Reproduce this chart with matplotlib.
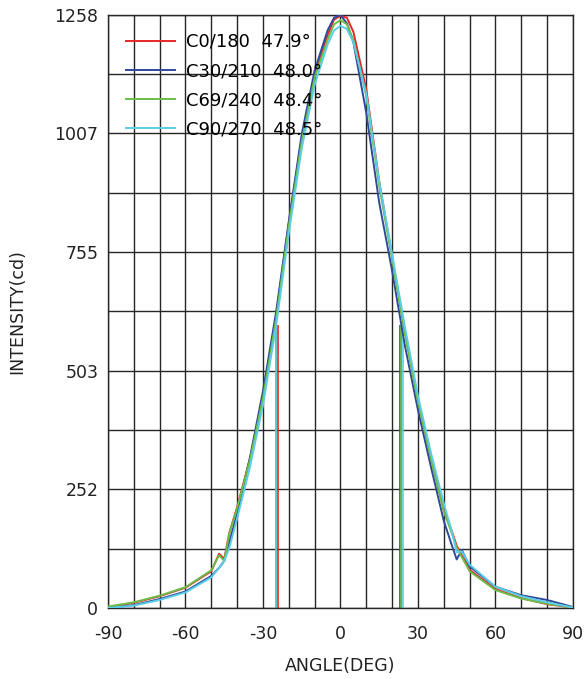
import numpy as np
import matplotlib
matplotlib.use("Agg")
import matplotlib.pyplot as plt

plt.rcParams['font.family'] = ['DejaVu Sans']

# angles (deg) shared by all four C-planes
angles = [-90, -80, -70, -60, -50, -47, -45, -43, -40, -35, -30, -25, -20, -15,
          -10, -5, -2.5, 0, 2.5, 5, 10, 15, 20, 25, 30, 35, 40, 43, 45, 47,
          50, 60, 70, 80, 90]

c0 = [2, 11, 25, 43, 78, 115, 104, 160, 214, 318, 448, 614, 816, 996,
      1131, 1215, 1248, 1256, 1252, 1222, 1100, 905, 745, 585, 440, 318, 208, 165, 132, 112,
      81, 40, 21, 8, 1]
c30 = [0, 6, 19, 35, 68, 85, 100, 140, 201, 320, 460, 625, 820, 1005,
       1140, 1225, 1252, 1258, 1240, 1200, 1050, 860, 715, 555, 420, 300, 185, 135, 103, 123,
       88, 45, 27, 17, 2]
c69 = [3, 12, 26, 44, 80, 112, 100, 158, 212, 315, 445, 610, 810, 990,
       1125, 1205, 1238, 1247, 1238, 1205, 1085, 895, 740, 580, 438, 318, 205, 160, 128, 108,
       78, 38, 20, 9, 1]
c90 = [0, 5, 17, 33, 65, 85, 100, 128, 190, 300, 430, 595, 795, 975,
       1110, 1195, 1225, 1235, 1228, 1200, 1090, 905, 750, 595, 450, 330, 222, 165, 118, 120,
       92, 45, 25, 12, 1]

labels = ['C0/180  47.9°', 'C30/210  48.0°', 'C69/240  48.4°', 'C90/270  48.5°']
colors = ['#e8262a', '#2f4a9c', '#6bbd45', '#5bcde6']

# half-intensity angles (left, right) and height of the marker lines
half_left = [-24.3, -24.8, -25.0, -25.0]
half_right = [23.6, 22.9, 23.4, 24.3]
half_top = [600, 600, 600, 610]

yticks = [0, 252, 503, 755, 1007, 1258]
xticks = [-90, -60, -30, 0, 30, 60, 90]
xticklabels = ['-90', '-60', '-30', '0', '30', '60', '90']

fig = plt.figure(figsize=(5.87, 6.79), dpi=100)
ax = fig.add_axes([0.184, 0.1046, 0.792, 0.8734])

series = [c0, c30, c69, c90]
for vals, lab, col in zip(series, labels, colors):
    ax.plot(angles, vals, color=col, lw=1.4, label=lab, zorder=3)

for xl, xr, top, col in zip(half_left, half_right, half_top, colors):
    ax.vlines([xl, xr], 0, top, colors=col, lw=1.2, zorder=2.5)

ax.set_xlim(-90, 90)
ax.set_ylim(0, 1258)
ax.set_xticks(xticks)
ax.set_xticklabels(xticklabels)
ax.set_yticks(yticks)
ax.set_xticks(np.arange(-90, 91, 10), minor=True)
ymid = [(a + b) / 2 for a, b in zip(yticks[:-1], yticks[1:])]
ax.set_yticks(ymid, minor=True)
ax.grid(True, which='both', color='#262626', lw=1.0)
ax.tick_params(which='both', length=0, labelsize=12.5, colors='#222222')
ax.tick_params(axis='x', pad=12)
ax.tick_params(axis='y', pad=7)
for s in ax.spines.values():
    s.set_color('#262626')
    s.set_linewidth(1.0)

ax.set_xlabel('ANGLE(DEG)', fontsize=12.5, color='#222222', labelpad=10)
ax.set_ylabel('INTENSITY(cd)', fontsize=12.5, color='#222222', labelpad=20)

ax.legend(loc='upper left', bbox_to_anchor=(0.0, 1.0), frameon=False,
          fontsize=13, handlelength=2.7, handletextpad=0.6, labelspacing=0.62,
          borderaxespad=0.6)

fig.savefig('out.png', dpi=100)
